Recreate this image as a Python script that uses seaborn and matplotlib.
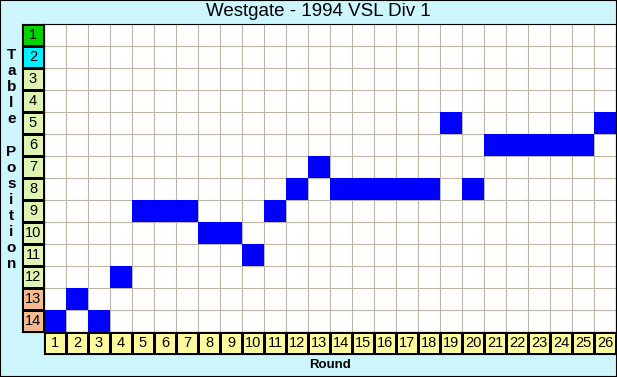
import numpy as np
import pandas as pd
import matplotlib
matplotlib.use("Agg")
import matplotlib.pyplot as plt
from matplotlib.colors import ListedColormap
from matplotlib.patches import Rectangle
import seaborn as sns

# Data: ladder position after each round
title = "Westgate - 1994 VSL Div 1"
rounds = list(range(1, 27))
positions = [14, 13, 14, 12, 9, 9, 9, 10, 10, 11, 9, 8, 7, 8, 8, 8, 8, 8, 5, 8, 6, 6, 6, 6, 6, 5]
table_positions = list(range(1, 15))
# band of each table position: 0 = top, 1 = second, 2 = middle, 3 = bottom
position_bands = [0, 1, 2, 2, 2, 2, 2, 2, 2, 2, 2, 2, 3, 3]

sns.set_theme(style="white")
plt.rcParams["font.family"] = ["Liberation Sans", "DejaVu Sans"]

W, H = 617, 377
bg = "#ccf6fb"
fig = plt.figure(figsize=(W / 100, H / 100), dpi=100, facecolor=bg)


def box(x0, y0, x1, y1):
    # pixel box (top-left origin) -> figure fractions
    return [x0 / W, 1 - y1 / H, (x1 - x0) / W, (y1 - y0) / H]


def tidy(a):
    a.set_xticks([])
    a.set_yticks([])
    a.set_xlabel("")
    a.set_ylabel("")
    for s in a.spines.values():
        s.set_visible(True)
        s.set_color("black")
        s.set_linewidth(0.8)


# Main grid: one cell per (position, round), filled where the team sat
grid = pd.DataFrame(0, index=table_positions, columns=rounds)
for r, p in zip(rounds, positions):
    grid.loc[p, r] = 1

ax = fig.add_axes(box(44, 24, 616, 332))
ax.set_facecolor("white")
sns.heatmap(grid, mask=grid == 0, cmap=ListedColormap(["#0000ff"]), vmin=0, vmax=1,
            cbar=False, linewidths=0, ax=ax)
ax.vlines(np.arange(1, len(rounds)), 0, len(table_positions), color="#bdb5a6", lw=0.8, zorder=0.5)
ax.hlines(np.arange(1, len(table_positions)), 0, len(rounds), color="#bdb5a6", lw=0.8, zorder=0.5)
tidy(ax)

# Left column: coloured table position labels
ax_left = fig.add_axes(box(22, 24, 44, 332))
band_df = pd.DataFrame({"band": position_bands}, index=table_positions)
labels = np.array([[str(p)] for p in table_positions])
sns.heatmap(band_df, cmap=ListedColormap(["#00d400", "#00f0ff", "#dff4b2", "#f4b98e"]),
            vmin=-0.5, vmax=3.5, cbar=False, annot=labels, fmt="",
            annot_kws={"color": "black", "fontsize": 10.5},
            linewidths=0.8, linecolor="black", ax=ax_left)
tidy(ax_left)

# Bottom row: round labels
ax_bot = fig.add_axes(box(44, 332, 616, 354))
round_df = pd.DataFrame([[0] * len(rounds)], columns=rounds)
rlabels = np.array([[str(r) for r in rounds]])
sns.heatmap(round_df, cmap=ListedColormap(["#fdfa9e"]), cbar=False, annot=rlabels, fmt="",
            annot_kws={"color": "black", "fontsize": 10.5},
            linewidths=0.8, linecolor="black", ax=ax_bot)
tidy(ax_bot)

# Titles and axis labels
fig.text(318.5 / W, 1 - 11.5 / H, title, ha="center", va="center", fontsize=13.5, color="black")
fig.text(330 / W, 1 - 364.5 / H, "Round", ha="center", va="center", fontsize=9.5,
         fontweight="bold", color="black")
ylabel = "Table Position"
for i, ch in enumerate(ylabel):
    fig.text(11.5 / W, 1 - (55 + i * 16.1) / H, ch, ha="center", va="center",
             fontsize=11, fontweight="bold", color="black")

# Outer border
fig.patches.append(Rectangle((0, 0), 1, 1, transform=fig.transFigure, fill=False,
                             edgecolor="black", lw=1.5))

fig.savefig("out.png", dpi=100, facecolor=bg)
